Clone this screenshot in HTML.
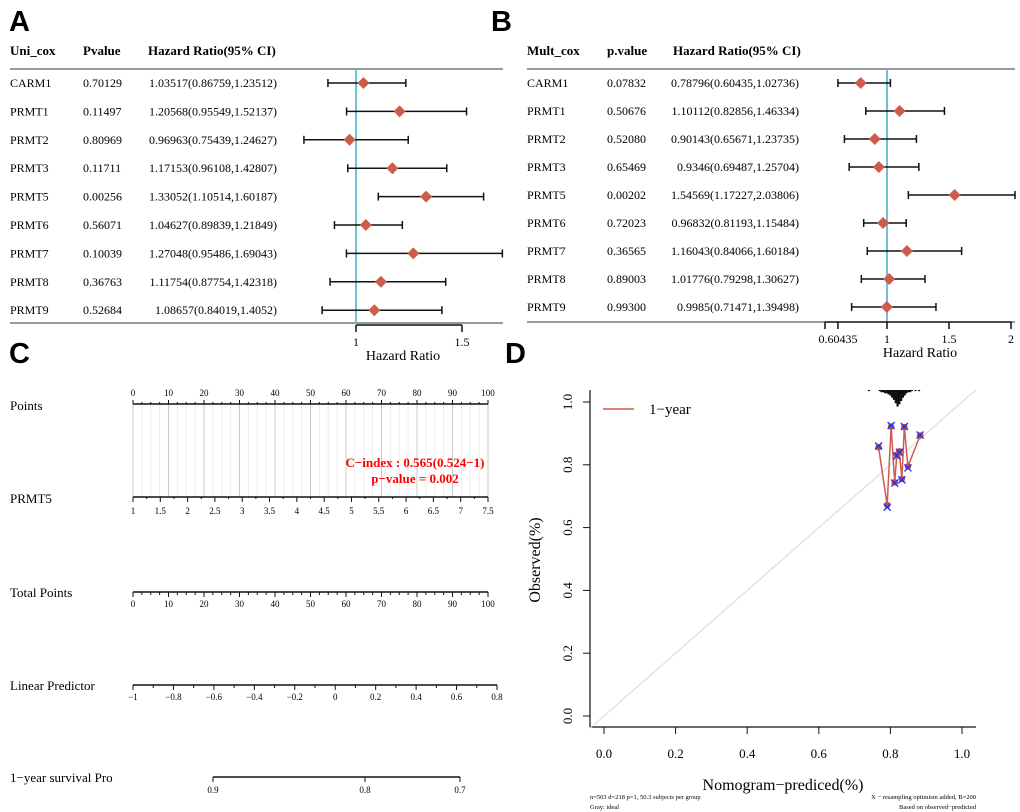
<!DOCTYPE html>
<html><head><meta charset="utf-8"><style>
html,body{margin:0;padding:0;background:#fff;}
svg{display:block;font-family:"Liberation Serif",serif;}
.lt{font-family:"Liberation Sans",sans-serif;font-weight:bold;font-size:29px;}
</style></head><body>
<svg id="fig" width="1020" height="812" viewBox="0 0 1020 812" xmlns="http://www.w3.org/2000/svg">
<text class="lt" x="9" y="31">A</text>
<text class="lt" x="491" y="31">B</text>
<text class="lt" x="9" y="363">C</text>
<text class="lt" x="505" y="363">D</text>
<g id="pa"></g>
<g id="pb"></g>
<g id="pc"></g>
<g id="pd"></g>
</svg>
<script>
const genes=["CARM1","PRMT1","PRMT2","PRMT3","PRMT5","PRMT6","PRMT7","PRMT8","PRMT9"];
const uniP=["0.70129","0.11497","0.80969","0.11711","0.00256","0.56071","0.10039","0.36763","0.52684"];
const uniHR=[1.03517,1.20568,0.96963,1.17153,1.33052,1.04627,1.27048,1.11754,1.08657];
const uniLo=[0.86759,0.95549,0.75439,0.96108,1.10514,0.89839,0.95486,0.87754,0.84019];
const uniHi=[1.23512,1.52137,1.24627,1.42807,1.60187,1.21849,1.69043,1.42318,1.4052];
const uniTxt=["1.03517(0.86759,1.23512)","1.20568(0.95549,1.52137)","0.96963(0.75439,1.24627)","1.17153(0.96108,1.42807)","1.33052(1.10514,1.60187)","1.04627(0.89839,1.21849)","1.27048(0.95486,1.69043)","1.11754(0.87754,1.42318)","1.08657(0.84019,1.4052)"];
const mulP=["0.07832","0.50676","0.52080","0.65469","0.00202","0.72023","0.36565","0.89003","0.99300"];
const mulHR=[0.78796,1.10112,0.90143,0.9346,1.54569,0.96832,1.16043,1.01776,0.9985];
const mulLo=[0.60435,0.82856,0.65671,0.69487,1.17227,0.81193,0.84066,0.79298,0.71471];
const mulHi=[1.02736,1.46334,1.23735,1.25704,2.03806,1.15484,1.60184,1.30627,1.39498];
const mulTxt=["0.78796(0.60435,1.02736)","1.10112(0.82856,1.46334)","0.90143(0.65671,1.23735)","0.9346(0.69487,1.25704)","1.54569(1.17227,2.03806)","0.96832(0.81193,1.15484)","1.16043(0.84066,1.60184)","1.01776(0.79298,1.30627)","0.9985(0.71471,1.39498)"];
const uniTicks=[1,1.5];
const mulTicks=[0.5,0.60435,1,1.5,2];
const mulTickLabels=["","0.60435","1","1.5","2"];
// calibration data
const calPred=[0.767,0.791,0.802,0.812,0.818,0.825,0.832,0.839,0.849,0.883];
const calObs=[0.856,0.672,0.922,0.744,0.832,0.843,0.755,0.920,0.795,0.893];
const calCorr=[0.860,0.665,0.925,0.742,0.828,0.840,0.752,0.922,0.790,0.895];
const spikePred=[0.74,0.77,0.775,0.78,0.785,0.79,0.795,0.80,0.805,0.81,0.815,0.82,0.825,0.83,0.835,0.84,0.845,0.85,0.855,0.86,0.87,0.88];
const spikeCnt=[1,1,2,2,3,3,4,5,7,9,12,15,13,10,7,5,3,2,2,1,1,1];
const dTicks=[0,0.2,0.4,0.6,0.8,1.0];
const dTickLabels=["0.0","0.2","0.4","0.6","0.8","1.0"];
// nomogram scales
const pointTicks=[0,10,20,30,40,50,60,70,80,90,100];
const prmt5Ticks=[1,1.5,2,2.5,3,3.5,4,4.5,5,5.5,6,6.5,7,7.5];
const lpTicks=[-1,-0.8,-0.6,-0.4,-0.2,0,0.2,0.4,0.6,0.8];
const lpLabels=["\u22121","\u22120.8","\u22120.6","\u22120.4","\u22120.2","0","0.2","0.4","0.6","0.8"];
const survTicks=[0.9,0.8,0.7];
const survPos=[0.9,0.8,0.7];

const NS="http://www.w3.org/2000/svg";
function mk(p,tag,a){const e=document.createElementNS(NS,tag);for(const k in a)e.setAttribute(k,a[k]);p.appendChild(e);return e;}
function tx(p,x,y,s,sz,anc,extra){const e=mk(p,"text",Object.assign({x:x,y:y,"font-size":sz,"text-anchor":anc||"start"},extra||{}));e.textContent=s;return e;}

function forest(g,o){
  const X=v=>o.x1+(v-1)*o.k;
  const hy=55;
  let t;
  t=tx(g,o.c0,hy,o.h0,13,"start",{"font-weight":"bold"});
  
  
  t=tx(g,o.c1,hy,o.h1,13,"start",{"font-weight":"bold"});
  
  
  t=tx(g,o.c2,hy,"Hazard Ratio(95% CI)",13,"start",{"font-weight":"bold"});
  
  
  mk(g,"line",{x1:o.c0,x2:o.xr,y1:69,y2:69,stroke:"#333","stroke-width":1});
  mk(g,"line",{x1:o.c0,x2:o.xr,y1:o.yb,y2:o.yb,stroke:"#333","stroke-width":1});
  mk(g,"line",{x1:X(1),x2:X(1),y1:69,y2:o.yb,stroke:"#6cc3cf","stroke-width":2});
  for(let i=0;i<genes.length;i++){
    const y=83+i*o.dy;
    t=tx(g,o.c0,y+4,genes[i],12);
    
    
    t=tx(g,o.c1,y+4,o.P[i],12);
    
    
    t=tx(g,o.c3,y+4,o.T[i],12,"end");
    
    
    const lo=X(o.L[i]),hi=Math.min(X(o.H[i]),o.xr),m=X(o.HR[i]);
    const ci=mk(g,"g",{});
    
    
    mk(ci,"line",{x1:lo,x2:hi,y1:y,y2:y,stroke:"#111","stroke-width":1.5});
    mk(ci,"line",{x1:lo,x2:lo,y1:y-4,y2:y+4,stroke:"#111","stroke-width":1.5});
    mk(ci,"line",{x1:hi,x2:hi,y1:y-4,y2:y+4,stroke:"#111","stroke-width":1.5});
    const d=mk(g,"path",{d:`M${m-6},${y}L${m},${y-6}L${m+6},${y}L${m},${y+6}Z`,fill:"#cd5c4c"});
    
    
  }
  const ay=o.ay;
  const xs=o.ticks.map(X);
  mk(g,"line",{x1:Math.min(...xs),x2:Math.max(...xs),y1:ay,y2:ay,stroke:"#111","stroke-width":1.5});
  o.ticks.forEach((v,i)=>{mk(g,"line",{x1:X(v),x2:X(v),y1:ay,y2:ay+7,stroke:"#111","stroke-width":1.5});
    t=tx(g,X(v),ay+21,o.tl[i],12,"middle");
    
    });
  t=tx(g,o.titleX,ay+35,"Hazard Ratio",14,"middle");
  
  
}
forest(document.getElementById("pa"),{c0:10,c1:83,c2:148,c3:277,xr:503,yb:323,ay:325,dy:28.4,x1:356,k:212,h0:"Uni_cox",h1:"Pvalue",P:uniP,T:uniTxt,HR:uniHR,L:uniLo,H:uniHi,ticks:uniTicks,tl:["1","1.5"],titleX:403});
forest(document.getElementById("pb"),{c0:527,c1:607,c2:673,c3:799,xr:1015,yb:322,ay:322,dy:28,x1:887,k:124,h0:"Mult_cox",h1:"p.value",P:mulP,T:mulTxt,HR:mulHR,L:mulLo,H:mulHi,ticks:mulTicks,tl:mulTickLabels,titleX:920});

// Panel C nomogram
(function(){
  const g=document.getElementById("pc");
  const x0=133,x1=488;
  const PX=v=>x0+(x1-x0)*v/100;
  const MX=v=>x0+(x1-x0)*(v-1)/6.5;
  const LX=v=>133+(497-133)*(v+1)/1.8;
  const SX=v=>[213,365,460][survPos.indexOf(v)];
  let t;
  [["Points",410],["PRMT5",503],["Total Points",597],["Linear Predictor",690],["1\u2212year survival Pro",782]].forEach(r=>{
    t=tx(g,10,r[1],r[0],13);
    
    
  });
  for(let v=0;v<=100;v+=2.5){
    const major=v%10===0;
    mk(g,"line",{x1:PX(v),x2:PX(v),y1:404,y2:497,stroke:major?"#c8c8c8":"#ececec","stroke-width":1});
  }
  // points axis
  mk(g,"line",{x1:x0,x2:x1,y1:404,y2:404,stroke:"#111","stroke-width":1.5});
  for(let v=0;v<=100;v+=2.5){mk(g,"line",{x1:PX(v),x2:PX(v),y1:404,y2:v%10===0?400:402,stroke:"#111"});}
  pointTicks.forEach(v=>{t=tx(g,PX(v),396,String(v),9,"middle");
    
    });
  // PRMT5
  mk(g,"line",{x1:x0,x2:x1,y1:497,y2:497,stroke:"#111","stroke-width":1.5});
  prmt5Ticks.forEach(v=>{mk(g,"line",{x1:MX(v),x2:MX(v),y1:497,y2:502,stroke:"#111"});
    t=tx(g,MX(v),514,String(v),9,"middle");
    
    });
  for(let v=1.25;v<7.5;v+=0.5)mk(g,"line",{x1:MX(v),x2:MX(v),y1:497,y2:499,stroke:"#111"});
  // total points
  mk(g,"line",{x1:x0,x2:x1,y1:592,y2:592,stroke:"#111","stroke-width":1.5});
  for(let v=0;v<=100;v+=2.5)mk(g,"line",{x1:PX(v),x2:PX(v),y1:592,y2:v%10===0?597:595,stroke:"#111"});
  pointTicks.forEach(v=>{t=tx(g,PX(v),607,String(v),9,"middle");
    
    });
  // linear predictor
  mk(g,"line",{x1:LX(-1),x2:LX(0.8),y1:685,y2:685,stroke:"#111","stroke-width":1.5});
  for(let v=-1;v<=0.801;v+=0.1)mk(g,"line",{x1:LX(v),x2:LX(v),y1:685,y2:Math.abs(Math.round(v*10))%2===0?690:688,stroke:"#111"});
  lpTicks.forEach((v,i)=>{t=tx(g,LX(v),700,lpLabels[i],9,"middle");
    
    });
  // survival
  mk(g,"line",{x1:SX(0.9),x2:SX(0.7),y1:777,y2:777,stroke:"#111","stroke-width":1.5});
  survTicks.forEach(v=>{mk(g,"line",{x1:SX(v),x2:SX(v),y1:777,y2:782,stroke:"#111"});
    t=tx(g,SX(v),793,String(v),9,"middle");
    
    });
  t=tx(g,415,467,"C\u2212index : 0.565(0.524\u22121)",13,"middle",{fill:"#f00","font-weight":"bold"});
  
  
  t=tx(g,415,483,"p\u2212value = 0.002",13,"middle",{fill:"#f00","font-weight":"bold"});
  
  
})();

// Panel D calibration
(function(){
  const g=document.getElementById("pd");
  const X=v=>604+358*v, Y=v=>716-314*v;
  let t;
  mk(g,"line",{x1:590,x2:590,y1:390,y2:727,stroke:"#111","stroke-width":1.2});
  mk(g,"line",{x1:590,x2:976,y1:727,y2:727,stroke:"#111","stroke-width":1.2});
  mk(g,"line",{x1:590,y1:Y((590-604)/358),x2:976,y2:Y((976-604)/358),stroke:"#d8d8d8","stroke-width":1});
  dTicks.forEach((v,i)=>{
    mk(g,"line",{x1:X(v),x2:X(v),y1:727,y2:734,stroke:"#111"});
    t=tx(g,X(v),758,dTickLabels[i],13,"middle");
    
    
    mk(g,"line",{x1:583,x2:590,y1:Y(v),y2:Y(v),stroke:"#111"});
    t=tx(g,572,Y(v),dTickLabels[i],13,"middle",{transform:`rotate(-90 572 ${Y(v)})`});
    
    
  });
  t=tx(g,540,560,"Observed(%)",16,"middle",{transform:"rotate(-90 540 560)"});
  
  
  t=tx(g,783,790,"Nomogram\u2212prediced(%)",16,"middle");
  
  
  t=tx(g,590,799,"n=503 d=218 p=1, 50.3 subjects per group",6.5);
  
  
  t=tx(g,590,809,"Gray: ideal",6.5);
  
  
  t=tx(g,976,799,"X \u2212 resampling optimism added, B=200",6.5,"end");
  
  
  t=tx(g,976,809,"Based on observed\u2212predicted",6.5,"end");
  
  
  // spikes
  spikePred.forEach((v,i)=>{
    const s=mk(g,"line",{x1:X(v),x2:X(v),y1:390,y2:390+spikeCnt[i]*1.1,stroke:"#111","stroke-width":2.2});
    
    
  });
  // legend
  mk(g,"line",{x1:603,x2:634,y1:409,y2:409,stroke:"#cd5c4c","stroke-width":1.5});
  t=tx(g,649,414,"1\u2212year",15);
  
  
  const pts=calPred.map((v,i)=>X(v)+","+Y(calObs[i])).join(" ");
  const pl=mk(g,"polyline",{points:pts,fill:"none",stroke:"#cd5c4c","stroke-width":1.5});
  
  
  calPred.forEach((v,i)=>{
    const c=mk(g,"circle",{cx:X(v),cy:Y(calObs[i]),r:3.3,fill:"#c0504a"});
    
    
    const x=X(v),y=Y(calCorr[i]);
    const m=mk(g,"path",{d:`M${x-3.5},${y-3.5}L${x+3.5},${y+3.5}M${x-3.5},${y+3.5}L${x+3.5},${y-3.5}`,stroke:"#2233ee","stroke-width":1.4});
    
    
  });
})();
</script>
</body></html>
